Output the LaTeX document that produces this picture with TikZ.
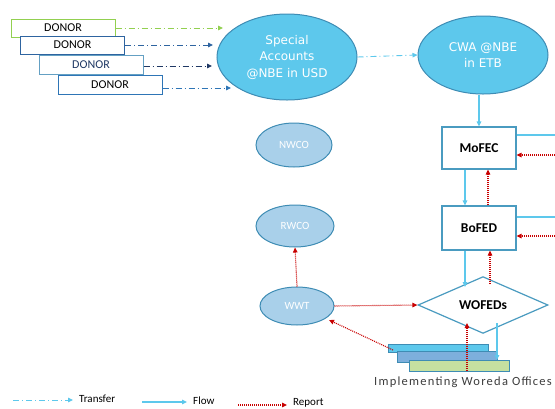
\documentclass[tikz,border=0pt]{standalone}
\usepackage{fontspec}
\setmainfont{Carlito}
\newfontfamily\dejavu{DejaVu Sans}
\newfontfamily\spaced[LetterSpace=10]{Carlito}
\usetikzlibrary{shapes.geometric,arrows.meta}
\definecolor{skyblue}{RGB}{93,200,236}
\definecolor{ellborder}{RGB}{62,140,180}
\definecolor{lightbl}{RGB}{169,208,234}
\definecolor{boxborder}{RGB}{74,155,192}
\definecolor{flowc}{RGB}{93,200,236}
\definecolor{repc}{RGB}{200,0,0}
\definecolor{dgreen}{RGB}{146,208,80}
\definecolor{dblue}{RGB}{46,100,160}
\definecolor{dteal}{RGB}{100,160,195}
\definecolor{dnavy}{RGB}{31,56,100}
\definecolor{dmid}{RGB}{46,117,182}
\definecolor{offmid}{RGB}{125,175,220}
\definecolor{offgreen}{RGB}{197,224,160}
\definecolor{txtgray}{RGB}{60,60,60}
\begin{document}
\begin{tikzpicture}[x=1pt,y=-1pt,
  donorbox/.style={draw, fill=white, minimum width=104pt, minimum height=18pt, inner sep=0pt, line width=1pt, font=\fontsize{12}{13}\selectfont},
  bigell/.style={ellipse, draw=ellborder, fill=skyblue, line width=1pt, inner sep=0pt, text=white, font=\dejavu\fontsize{12}{16.5}\selectfont, align=center},
  smallell/.style={ellipse, draw=ellborder, fill=lightbl, line width=1pt, inner sep=0pt, text=white, font=\fontsize{11}{13}\selectfont},
  procbox/.style={draw=boxborder, fill=white, line width=1.2pt, minimum width=74pt, inner sep=0pt, font=\bfseries\fontsize{13.5}{15}\selectfont},
  tip/.style={-{Triangle[length=5pt,width=4.5pt]}},
  transfer/.style={tip, dash pattern=on 6pt off 3pt on 1pt off 3pt, line width=0.9pt},
  flow/.style={tip, draw=flowc, line width=1.2pt},
  report/.style={tip, draw=repc, line width=1.1pt, dash pattern=on 1pt off 1pt},
  offrect/.style={draw=ellborder, line width=1pt},
  legtext/.style={anchor=west, inner sep=0pt, font=\fontsize{11}{13}\selectfont, text=black}
]
\useasboundingbox (0,0) rectangle (555,408);

% donors
\node[donorbox, draw=dgreen] (d1) at (63,28) {DONOR};
\node[donorbox, draw=dblue] (d2) at (72.5,45) {DONOR};
\node[donorbox, draw=dteal, minimum height=19pt, text=dnavy] (d3) at (91,64.5) {DONOR};
\node[donorbox, draw=dmid, minimum height=19pt] (d4) at (110,84.5) {DONOR};

% ellipses
\node[bigell, minimum width=140pt, minimum height=86pt] (sa) at (287,57) {Special\\Accounts\\@NBE in USD};
\node[bigell, minimum width=130pt, minimum height=78pt] (cwa) at (483,55) {CWA @NBE\\in ETB};

\coordinate (e1) at (223,28);
\coordinate (e2) at (213,45);
\coordinate (e3) at (212,66);
\coordinate (e4) at (231,88);
\draw[transfer, draw=dgreen] (d1.east |- e1) -- (e1);
\draw[transfer, draw=dblue] (d2.east |- e2) -- (e2);
\draw[transfer, draw=dnavy] (d3.east |- e3) -- (e3);
\draw[transfer, draw=dmid] (d4.east |- e4) -- (e4);
\draw[transfer, draw=flowc] (sa.east) -- (cwa.west);

% small ellipses
\node[smallell, minimum width=76pt, minimum height=44pt] (nwco) at (294,145) {NWCO};
\node[smallell, minimum width=78pt, minimum height=42pt] (rwco) at (295,226) {RWCO};
\node[smallell, minimum width=74pt, minimum height=38pt] (wwt) at (297,306) {WWT};

% boxes
\node[procbox, minimum height=42pt] (mofec) at (479,148) {MoFEC};
\node[procbox, minimum height=44pt] (bofed) at (479,228) {BoFED};
\node[diamond, draw=boxborder, fill=white, line width=1.2pt, inner sep=0pt, minimum width=130pt, minimum height=47pt, font=\bfseries\fontsize{13.5}{15}\selectfont] (wofeds) at (483,305) {WOFEDs};

% flows main column
\draw[flow] (mofec.north |- cwa.south) -- (mofec.north);
\coordinate (fx) at (465,0);
\coordinate (rx) at (488,0);
\draw[flow] (mofec.south -| fx) -- (bofed.north -| fx);
\draw[report] (bofed.north -| rx) -- (mofec.south -| rx);
\coordinate (wtop1) at (465,287);
\coordinate (wtop2) at (490,284);
\draw[flow] (bofed.south -| wtop1) -- (wtop1);
\draw[report] (wtop2) -- (bofed.south -| wtop2);

% right side
\coordinate (m1) at (555,135);
\coordinate (m2) at (555,155);
\coordinate (b1) at (555,217);
\coordinate (b2) at (555,236);
\draw[draw=flowc, line width=1.2pt] (mofec.east |- m1) -- (m1);
\draw[report] (m2) -- (mofec.east |- m2);
\draw[draw=flowc, line width=1.2pt] (bofed.east |- b1) -- (b1);
\draw[report] (b2) -- (bofed.east |- b2);

% WWT reports
\draw[report] (wwt.north) -- (rwco.south);
\draw[report] (wwt.east) -- (wofeds.west);

% implementing offices
\filldraw[offrect, fill=skyblue] (388,344) rectangle (488,352);
\filldraw[offrect, fill=offmid] (397,351) rectangle (497,362);
\filldraw[offrect, fill=offgreen] (409,360) rectangle (509,371);
\coordinate (o1) at (393,350);
\coordinate (w1) at (329,320);
\draw[report] (o1) -- (w1);
\coordinate (o2) at (467,371);
\coordinate (wb2) at (467,323);
\draw[report] (o2) -- (wb2);
\coordinate (wb3) at (497,323);
\coordinate (o3) at (497,360);
\draw[flow] (wb3) -- (o3);
\node[inner sep=0pt, text=txtgray, font=\spaced\fontsize{12.5}{14}\selectfont] (impl) at (463,382) {Implementing Woreda Offices};

% legend
\coordinate (l1a) at (13,400); \coordinate (l1b) at (73,400);
\draw[transfer, draw=flowc] (l1a) -- (l1b);
\node[legtext] (lt1) at (79,399) {Transfer};
\coordinate (l2a) at (142,402); \coordinate (l2b) at (187,402);
\draw[flow] (l2a) -- (l2b);
\node[legtext] (lt2) at (193,400.5) {Flow};
\coordinate (l3a) at (238,405); \coordinate (l3b) at (287,405);
\draw[report] (l3a) -- (l3b);
\node[legtext] (lt3) at (293,403) {Report};
\end{tikzpicture}
\end{document}
